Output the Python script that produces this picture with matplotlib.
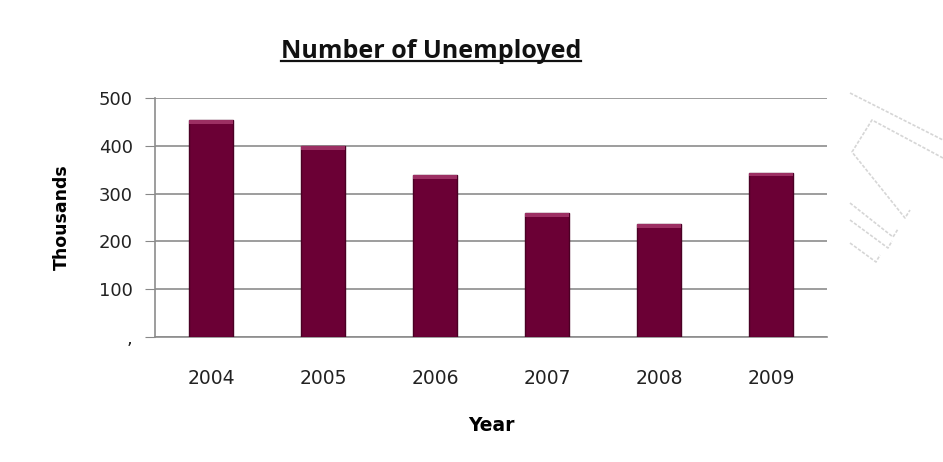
import matplotlib
matplotlib.use('Agg')
import matplotlib.pyplot as plt
from matplotlib.lines import Line2D

# data
years = ['2004', '2005', '2006', '2007', '2008', '2009']
unemployed = [454, 400, 339, 259, 236, 344]
y_ticks = [0, 100, 200, 300, 400, 500]
y_tick_labels = [',', '100', '200', '300', '400', '500']

fig = plt.figure(figsize=(9.43, 4.62), dpi=100)
ax = fig.add_axes([0.1644, 0.2706, 0.7126, 0.5173])

x = range(len(years))
ax.bar(x, unemployed, width=0.4, color='#6b0035', edgecolor='#4a0024', linewidth=1, zorder=3)
# lighter bevel at the top of each bar
cap = 8
ax.bar(x, [cap] * len(years), bottom=[v - cap for v in unemployed], width=0.4,
       color='#9c2f63', linewidth=0, zorder=4)

ax.set_xlim(-0.5, len(years) - 0.5)
ax.set_ylim(0, 500)
ax.set_xticks(list(x))
ax.set_xticklabels(years, fontsize=13.5, color='#222222')
ax.set_yticks(y_ticks)
ax.set_yticklabels(y_tick_labels, fontsize=13, color='#222222')
ax.tick_params(axis='x', length=0, pad=23)
ax.tick_params(axis='y', length=7, color='#888888', pad=9)

ax.grid(axis='y', color='#8c8c8c', linewidth=1.2, zorder=0)
for s in ['top', 'right']:
    ax.spines[s].set_visible(False)
ax.spines['left'].set_color('#8c8c8c')
ax.spines['bottom'].set_color('#8c8c8c')
ax.spines['left'].set_linewidth(1.2)
ax.spines['bottom'].set_linewidth(1.2)

ax.set_xlabel('Year', fontsize=13.5, fontweight='bold', labelpad=20)
ax.set_ylabel('Thousands', fontsize=12.5, fontweight='bold', labelpad=20)

title = fig.text(0.457, 0.888, 'Number of Unemployed', ha='center', va='center',
                 fontsize=18, fontweight='bold', family='Open Sans', color='#111111')

# underline the title
fig.canvas.draw()
bb = title.get_window_extent().transformed(fig.transFigure.inverted())
fig.add_artist(Line2D([bb.x0, bb.x1], [bb.y0 + 0.006, bb.y0 + 0.006],
                      transform=fig.transFigure, color='#111111', linewidth=1.6))

# faint watermark on the right edge (pixel coords of the picture)
wm = [
    [(850, 93), (943, 140)],
    [(943, 158), (872, 120), (852, 152), (905, 218), (910, 210)],
    [(850, 203), (893, 237), (898, 229)],
    [(850, 220), (888, 248), (892, 241)],
    [(850, 243), (876, 262), (880, 255)],
]
for seg in wm:
    xs = [p[0] / 943 for p in seg]
    ys = [1 - p[1] / 462 for p in seg]
    fig.add_artist(Line2D(xs, ys, transform=fig.transFigure, color='#d6d6d6',
                          linewidth=1.2, linestyle=(0, (2, 1))))

fig.savefig('out.png', dpi=100)
